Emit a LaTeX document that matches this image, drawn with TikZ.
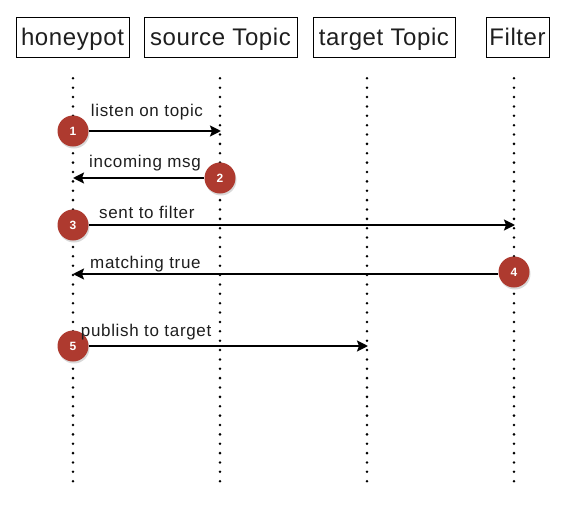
\documentclass[tikz,border=0pt]{standalone}
\usepackage{fontspec}
\setmainfont{Liberation Sans}
\usetikzlibrary{arrows.meta,shadows}
\definecolor{badgered}{HTML}{AE3A2F}
\definecolor{ink}{HTML}{1E1E1E}
\begin{document}
\begin{tikzpicture}[x=1pt,y=-1pt,
 actor/.style={draw,line width=0.9pt,minimum height=40pt,inner sep=0pt,text height=17pt,text depth=0pt,text=ink,font=\fontsize{24}{26}\selectfont\addfontfeature{LetterSpace=2.5}},
 life/.style={line width=2.8pt,dash pattern=on 0pt off 9.37pt,line cap=round},
 msg/.style={line width=2pt,-{Stealth[length=11pt,width=11pt,inset=2pt]}},
 badge/.style={circle,fill=badgered,minimum size=31pt,inner sep=0pt,text=white,font=\fontsize{12}{14}\selectfont\bfseries,drop shadow={opacity=0.3,shadow xshift=1pt,shadow yshift=-2pt}},
 lbl/.style={anchor=base west,inner sep=0pt,font=\fontsize{17}{19}\selectfont\addfontfeature{LetterSpace=4},text=ink}]
\useasboundingbox (0,0) rectangle (566,509);
% actors
\node[actor,minimum width=113pt] (hp) at (72.5,37.3) {honeypot};
\node[actor,minimum width=153pt] (src) at (220.5,37.3) {source Topic};
\node[actor,minimum width=142pt] (tgt) at (384,37.3) {target Topic};
\node[actor,minimum width=63pt] (flt) at (517.5,37.3) {Filter};
% lifelines
\coordinate (hpT) at (73,78.3);  \coordinate (hpB) at (73,482);
\coordinate (srcT) at (220,78.3); \coordinate (srcB) at (220,482);
\coordinate (tgtT) at (367,78.3); \coordinate (tgtB) at (367,482);
\coordinate (fltT) at (514,78.3); \coordinate (fltB) at (514,482);
\draw[life] (hpT) -- (hpB);
\draw[life] (srcT) -- (srcB);
\draw[life] (tgtT) -- (tgtB);
\draw[life] (fltT) -- (fltB);
% message end points
\coordinate (m1e) at (221,131);
\coordinate (m2e) at (73,178);
\coordinate (m3e) at (515,225);
\coordinate (m4e) at (73,274);
\coordinate (m5e) at (368,346);
% badges
\node[badge] (b1) at (73,131) {1};
\node[badge] (b2) at (220,178) {2};
\node[badge] (b3) at (73,225) {3};
\node[badge] (b4) at (514,272) {4};
\node[badge] (b5) at (73,346) {5};
% messages
\draw[msg] (b1) -- (m1e);
\draw[msg] (b2) -- (m2e);
\draw[msg] (b3) -- (m3e);
\draw[msg] (b4.west |- m4e) -- (m4e);
\draw[msg] (b5) -- (m5e);
% labels
\node[lbl] (l1) at (90.7,116.3) {listen on topic};
\node[lbl] (l2) at (89,167) {incoming msg};
\node[lbl] (l3) at (99,218) {sent to filter};
\node[lbl] (l4) at (90,268) {matching true};
\node[lbl] (l5) at (80.7,336.7) {publish to target};
\end{tikzpicture}
\end{document}
